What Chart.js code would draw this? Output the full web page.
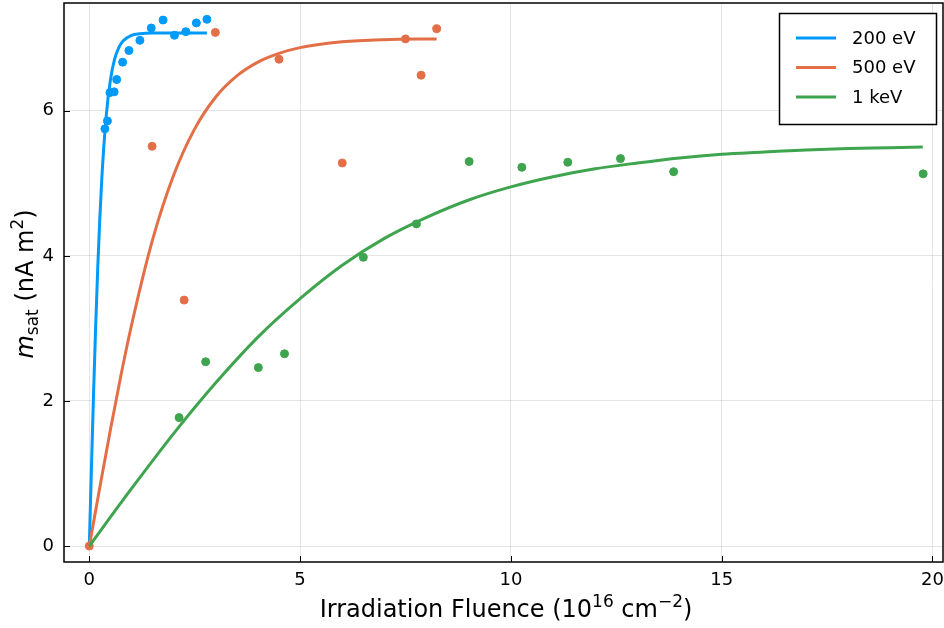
<!DOCTYPE html>
<html>
<head>
<meta charset="utf-8">
<script src="https://cdn.jsdelivr.net/npm/chart.js@4.4.1/dist/chart.umd.min.js"></script>
<style>
  html, body { margin: 0; padding: 0; background: #fff; }
  #wrap { width: 944px; height: 628px; }
</style>
</head>
<body>
<div id="wrap"><canvas id="chart" width="944" height="628"></canvas></div>
<script>
// measured points (fluence in 1e16 cm^-2, m_sat in nA m^2)
const meas200X = [0.37, 0.43, 0.49, 0.59, 0.65, 0.79, 0.94, 1.20, 1.47, 1.75, 2.02, 2.29, 2.54, 2.79];
const meas200Y = [5.75, 5.86, 6.25, 6.26, 6.43, 6.67, 6.83, 6.97, 7.14, 7.25, 7.04, 7.09, 7.21, 7.26];
const meas500X = [0, 1.49, 2.25, 2.99, 4.50, 6.00, 7.50, 7.87, 8.24];
const meas500Y = [0, 5.51, 3.39, 7.08, 6.71, 5.28, 6.99, 6.49, 7.13];
const meas1kX = [2.13, 2.76, 4.01, 4.63, 6.50, 7.76, 9.01, 10.26, 11.35, 12.60, 13.86, 19.78];
const meas1kY = [1.77, 2.54, 2.46, 2.65, 3.98, 4.44, 5.30, 5.22, 5.29, 5.34, 5.16, 5.13];

// fitted curves
const fit200X = [0, 0.05, 0.1, 0.15, 0.2, 0.25, 0.3, 0.4, 0.5, 0.6, 0.7, 0.8, 1.0, 1.2, 1.5, 2.0, 2.79];
const fit200Y = [0, 1.06, 2.08, 3.01, 3.83, 4.52, 5.10, 5.92, 6.42, 6.71, 6.87, 6.96, 7.04, 7.06, 7.07, 7.07, 7.07];
const fit500X = [0, 0.25, 0.5, 0.75, 1, 1.5, 2, 2.5, 3, 3.5, 4, 4.5, 5, 6, 7, 8.24];
const fit500Y = [0, 0.81, 1.60, 2.35, 3.04, 4.22, 5.11, 5.75, 6.19, 6.48, 6.67, 6.79, 6.87, 6.95, 6.98, 6.99];
const fit1kX = [0, 1, 2, 3, 4, 5, 6, 7, 8, 9, 10, 11, 12, 13, 14, 15, 16, 17, 18, 19, 19.77];
const fit1kY = [0, 0.79, 1.55, 2.25, 2.88, 3.41, 3.87, 4.24, 4.53, 4.77, 4.95, 5.09, 5.20, 5.28, 5.35, 5.40, 5.43, 5.46, 5.48, 5.49, 5.50];

const seriesLabels = ['200 eV', '500 eV', '1 keV'];
const xTicks = [0, 5, 10, 15, 20];
const yTicks = [0, 2, 4, 6];

const colors = ['#009afa', '#e36f47', '#3ea44e'];
const FONT = "'DejaVu Sans', sans-serif";

const pts = (xs, ys) => xs.map((x, i) => ({ x: x, y: ys[i] }));

function lineSet(i, xs, ys, order) {
  return {
    label: seriesLabels[i],
    data: pts(xs, ys),
    borderColor: colors[i],
    borderWidth: 3,
    pointRadius: 0,
    showLine: true,
    fill: false,
    cubicInterpolationMode: 'monotone',
    order: order
  };
}

function dotSet(i, xs, ys, order) {
  return {
    label: '',
    data: pts(xs, ys),
    backgroundColor: colors[i],
    borderColor: colors[i],
    borderWidth: 1,
    pointRadius: 4,
    showLine: false,
    order: order
  };
}

// draws text pieces one after another (for sub/superscripts)
function drawRuns(ctx, runs, cx, base) {
  let total = 0;
  runs.forEach(r => { ctx.font = r.font; r.w = ctx.measureText(r.t).width; total += r.w; });
  let x = cx - total / 2;
  runs.forEach(r => {
    ctx.font = r.font;
    ctx.fillText(r.t, x, base + (r.dy || 0));
    x += r.w;
  });
}

const decorations = {
  id: 'decorations',
  afterDatasetsDraw(chart) {
    const { ctx, chartArea: a, scales } = chart;
    ctx.save();

    // inward tick marks
    ctx.strokeStyle = '#000';
    ctx.lineWidth = 1;
    ctx.beginPath();
    xTicks.forEach(v => {
      const px = Math.round(scales.x.getPixelForValue(v)) + 0.5;
      ctx.moveTo(px, a.bottom); ctx.lineTo(px, a.bottom - 6);
    });
    yTicks.forEach(v => {
      const py = Math.round(scales.y.getPixelForValue(v)) + 0.5;
      ctx.moveTo(a.left, py); ctx.lineTo(a.left + 6, py);
    });
    ctx.stroke();

    // frame
    ctx.lineWidth = 1.5;
    ctx.strokeRect(a.left, a.top, a.right - a.left, a.bottom - a.top);

    // legend
    const lx = 779.5, ly = 13.5, lw = 157, lh = 111;
    ctx.fillStyle = '#fff';
    ctx.fillRect(lx, ly, lw, lh);
    ctx.lineWidth = 1.5;
    ctx.strokeStyle = '#000';
    ctx.strokeRect(lx, ly, lw, lh);
    ctx.font = '18px ' + FONT;
    ctx.textBaseline = 'middle';
    seriesLabels.forEach((lab, i) => {
      const yy = 38 + i * 29.5;
      ctx.strokeStyle = colors[i];
      ctx.lineWidth = 3;
      ctx.beginPath();
      ctx.moveTo(796, yy); ctx.lineTo(836, yy);
      ctx.stroke();
      ctx.fillStyle = '#000';
      ctx.fillText(lab, 852, yy + 1);
    });

    // axis titles
    ctx.fillStyle = '#000';
    ctx.textBaseline = 'alphabetic';
    const big = '24px ' + FONT, small = '17px ' + FONT;
    drawRuns(ctx, [
      { t: 'Irradiation Fluence (10', font: big },
      { t: '16', font: small, dy: -10 },
      { t: ' cm', font: big },
      { t: '\u22122', font: small, dy: -10 },
      { t: ')', font: big }
    ], 506, 617);

    ctx.translate(33, 284);
    ctx.rotate(-Math.PI / 2);
    drawRuns(ctx, [
      { t: 'm', font: 'italic ' + big },
      { t: 'sat', font: small, dy: 5 },
      { t: ' (nA m', font: big },
      { t: '2', font: small, dy: -10 },
      { t: ')', font: big }
    ], 0, 0);

    ctx.restore();
  }
};

new Chart(document.getElementById('chart'), {
  type: 'scatter',
  data: {
    datasets: [
      dotSet(0, meas200X, meas200Y, 6),
      lineSet(0, fit200X, fit200Y, 5),
      dotSet(1, meas500X, meas500Y, 4),
      lineSet(1, fit500X, fit500Y, 3),
      dotSet(2, meas1kX, meas1kY, 2),
      lineSet(2, fit1kX, fit1kY, 1)
    ]
  },
  options: {
    responsive: false,
    devicePixelRatio: 1,
    animation: false,
    layout: { autoPadding: false, padding: { top: 3, right: 1, left: 0, bottom: 0 } },
    plugins: {
      legend: { display: false },
      tooltip: { enabled: false }
    },
    scales: {
      x: {
        type: 'linear',
        min: -0.6,
        max: 20.25,
        afterFit: s => { s.height = 66; s.paddingLeft = 0; s.paddingRight = 0; },
        afterBuildTicks: s => { s.ticks = xTicks.map(v => ({ value: v })); },
        grid: { color: 'rgba(0,0,0,0.1)', drawTicks: false },
        border: { display: false },
        ticks: { color: '#000', padding: 8, font: { family: FONT, size: 18 } }
      },
      y: {
        type: 'linear',
        min: -0.22,
        max: 7.485,
        afterFit: s => { s.width = 64; s.paddingTop = 0; s.paddingBottom = 0; },
        afterBuildTicks: s => { s.ticks = yTicks.map(v => ({ value: v })); },
        grid: { color: 'rgba(0,0,0,0.1)', drawTicks: false },
        border: { display: false },
        ticks: { color: '#000', padding: 10, font: { family: FONT, size: 18 } }
      }
    }
  },
  plugins: [decorations]
});
</script>
</body>
</html>
